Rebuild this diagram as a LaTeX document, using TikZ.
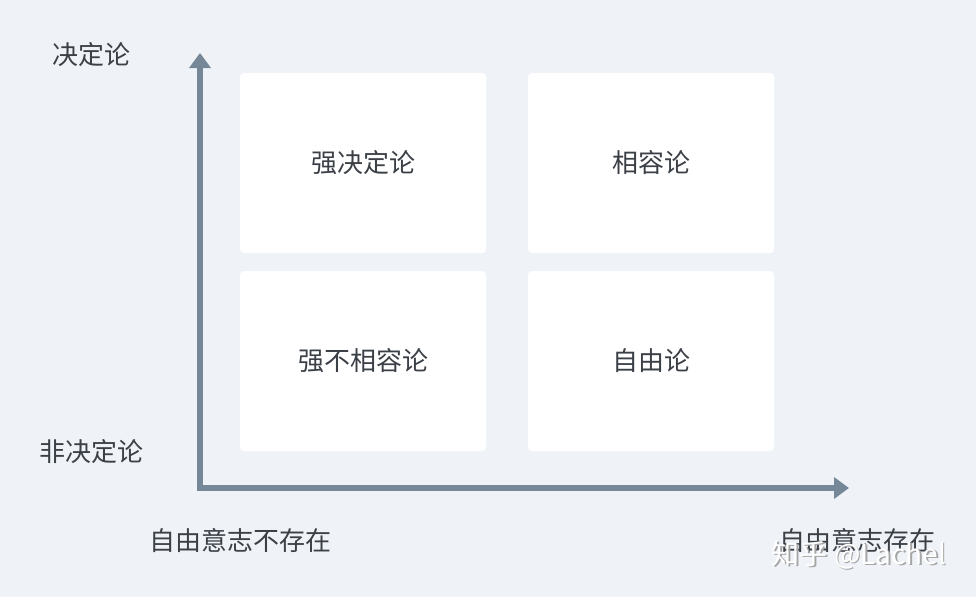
\documentclass[tikz,border=0pt]{standalone}
\usepackage{fontspec}
\setmainfont{Noto Sans CJK SC}
\newfontfamily\cjk{Noto Sans CJK SC}
\usetikzlibrary{arrows.meta}
\definecolor{bgc}{HTML}{EFF3F7}
\definecolor{axisc}{HTML}{768798}
\definecolor{txtc}{HTML}{3B4047}
\tikzset{
  x=1pt,y=-1pt,
  quad/.style={fill=white, rounded corners=4pt, draw=none},
  qlabel/.style={text=txtc, font=\cjk\fontsize{26}{30}\selectfont, inner sep=0pt},
  axislabel/.style={text=txtc, font=\cjk\fontsize{26}{30}\selectfont, inner sep=0pt},
  axisline/.style={draw=axisc, line width=6pt, -{Triangle[width=21pt,length=15pt]}},
}
\begin{document}
\begin{tikzpicture}
\fill[bgc] (0,0) rectangle (976,597);
\useasboundingbox (0,0) rectangle (976,597);
% quadrants
\node[quad, minimum width=246pt, minimum height=180pt] (q1) at (363,163) {};
\node[quad, minimum width=246pt, minimum height=180pt] (q2) at (651,163) {};
\node[quad, minimum width=246pt, minimum height=180pt] (q3) at (363,361) {};
\node[quad, minimum width=246pt, minimum height=180pt] (q4) at (651,361) {};
\node[qlabel] at (q1.center) {强决定论};
\node[qlabel] at (q2.center) {相容论};
\node[qlabel] at (q3.center) {强不相容论};
\node[qlabel] at (q4.center) {自由论};
% axes
\coordinate (o) at (200,488);
\coordinate (ytop) at (200,53);
\coordinate (xend) at (849,488);
\draw[axisline] ([yshift=-3pt]o) -- (ytop);
\draw[axisline] ([xshift=-3pt]o) -- (xend);
% labels
\node[axislabel] (ld) at (91,55) {决定论};
\node[axislabel] (lnd) at (91,452) {非决定论};
\node[axislabel] (lnf) at (240,541) {自由意志不存在};
\node[axislabel] (lf) at (857,541) {自由意志存在};
% watermark
\node[text=black!35, font=\cjk\fontsize{28}{32}\selectfont, inner sep=0pt] at (860.5,556.5) {知乎 @Lachel};
\node[text=white, font=\cjk\fontsize{28}{32}\selectfont, inner sep=0pt] (wm) at (859,555) {知乎 @Lachel};
\end{tikzpicture}
\end{document}
